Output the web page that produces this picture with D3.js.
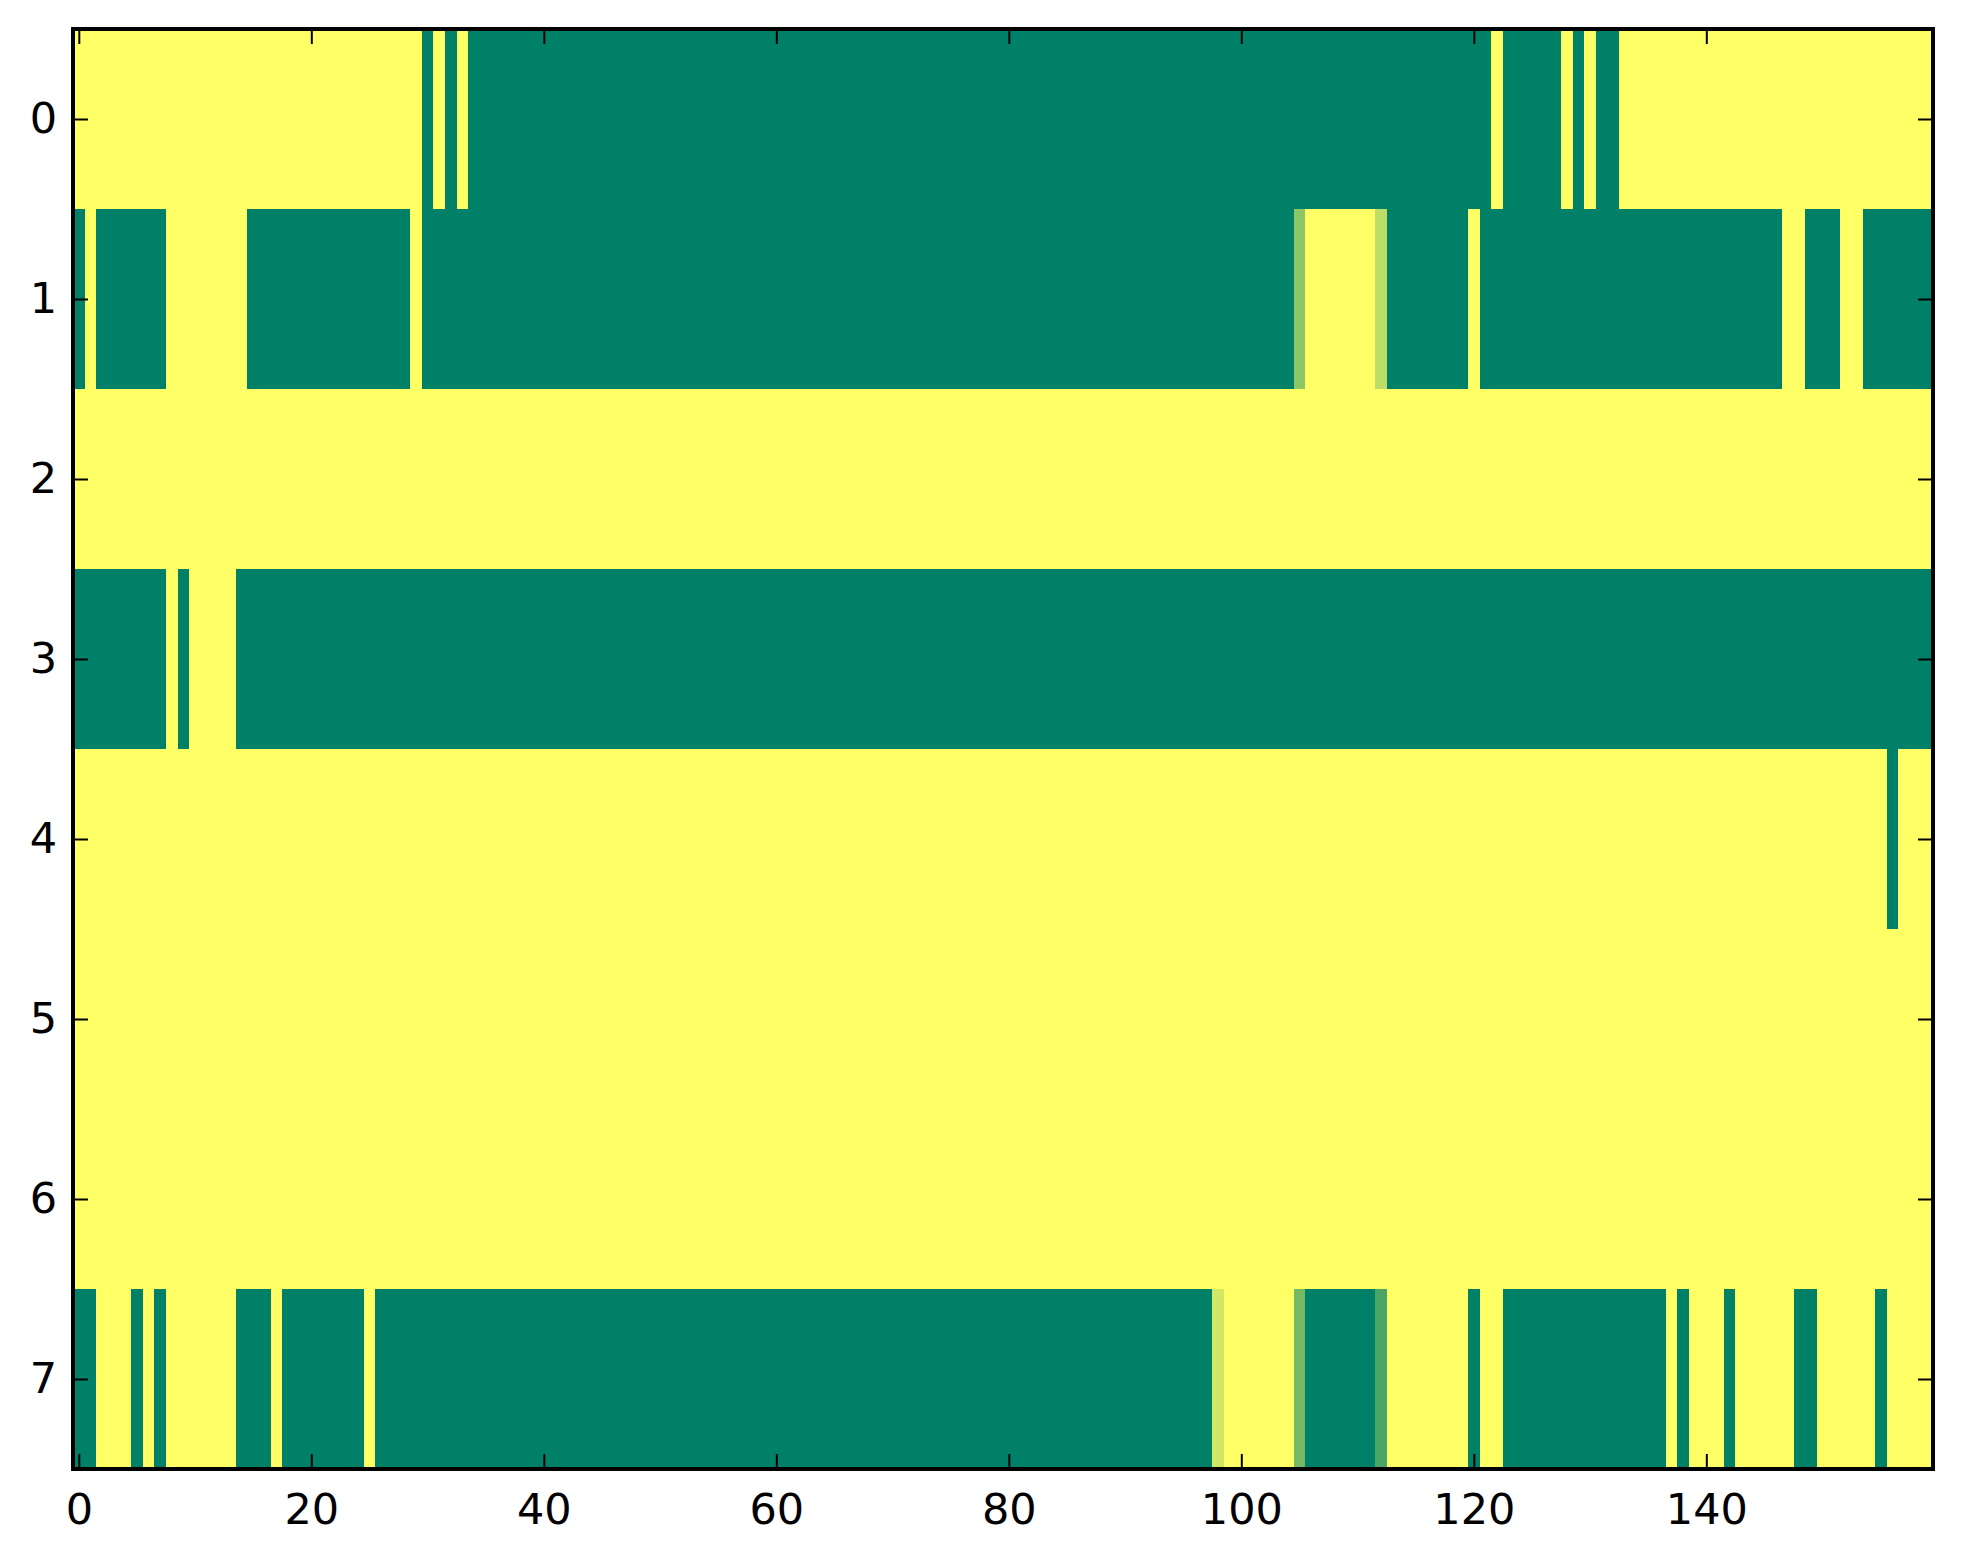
<!DOCTYPE html>
<html>
<head>
<meta charset="utf-8">
<script src="https://cdn.jsdelivr.net/npm/d3@7"></script>
<style>
  html, body { margin: 0; padding: 0; background: #ffffff; }
  text { font-family: "DejaVu Sans", sans-serif; }
</style>
</head>
<body>
<div id="chart"></div>
<script>
// Row labels and x tick values
const rows = [0, 1, 2, 3, 4, 5, 6, 7];
const xTicks = [0, 20, 40, 60, 80, 100, 120, 140];

// Cell values per row, 160 columns each (0 = green, 1 = yellow)
const row0 = [
  1,1,1,1,1,1,1,1,1,1,1,1,1,1,1,1,1,1,1,1,
  1,1,1,1,1,1,1,1,1,1,0,1,0,1,0,0,0,0,0,0,
  0,0,0,0,0,0,0,0,0,0,0,0,0,0,0,0,0,0,0,0,
  0,0,0,0,0,0,0,0,0,0,0,0,0,0,0,0,0,0,0,0,
  0,0,0,0,0,0,0,0,0,0,0,0,0,0,0,0,0,0,0,0,
  0,0,0,0,0,0,0,0,0,0,0,0,0,0,0,0,0,0,0,0,
  0,0,1,0,0,0,0,0,1,0,1,0,0,1,1,1,1,1,1,1,
  1,1,1,1,1,1,1,1,1,1,1,1,1,1,1,1,1,1,1,1
];
const row1 = [
  0,1,0,0,0,0,0,0,1,1,1,1,1,1,1,0,0,0,0,0,
  0,0,0,0,0,0,0,0,0,1,0,0,0,0,0,0,0,0,0,0,
  0,0,0,0,0,0,0,0,0,0,0,0,0,0,0,0,0,0,0,0,
  0,0,0,0,0,0,0,0,0,0,0,0,0,0,0,0,0,0,0,0,
  0,0,0,0,0,0,0,0,0,0,0,0,0,0,0,0,0,0,0,0,
  0,0,0,0,0,0.55,1,1,1,1,1,1,0.74,0,0,0,0,0,0,0,
  1,0,0,0,0,0,0,0,0,0,0,0,0,0,0,0,0,0,0,0,
  0,0,0,0,0,0,0,1,1,0,0,0,1,1,0,0,0,0,0,0
];
const row2 = [
  1,1,1,1,1,1,1,1,1,1,1,1,1,1,1,1,1,1,1,1,
  1,1,1,1,1,1,1,1,1,1,1,1,1,1,1,1,1,1,1,1,
  1,1,1,1,1,1,1,1,1,1,1,1,1,1,1,1,1,1,1,1,
  1,1,1,1,1,1,1,1,1,1,1,1,1,1,1,1,1,1,1,1,
  1,1,1,1,1,1,1,1,1,1,1,1,1,1,1,1,1,1,1,1,
  1,1,1,1,1,1,1,1,1,1,1,1,1,1,1,1,1,1,1,1,
  1,1,1,1,1,1,1,1,1,1,1,1,1,1,1,1,1,1,1,1,
  1,1,1,1,1,1,1,1,1,1,1,1,1,1,1,1,1,1,1,1
];
const row3 = [
  0,0,0,0,0,0,0,0,1,0,1,1,1,1,0,0,0,0,0,0,
  0,0,0,0,0,0,0,0,0,0,0,0,0,0,0,0,0,0,0,0,
  0,0,0,0,0,0,0,0,0,0,0,0,0,0,0,0,0,0,0,0,
  0,0,0,0,0,0,0,0,0,0,0,0,0,0,0,0,0,0,0,0,
  0,0,0,0,0,0,0,0,0,0,0,0,0,0,0,0,0,0,0,0,
  0,0,0,0,0,0,0,0,0,0,0,0,0,0,0,0,0,0,0,0,
  0,0,0,0,0,0,0,0,0,0,0,0,0,0,0,0,0,0,0,0,
  0,0,0,0,0,0,0,0,0,0,0,0,0,0,0,0,0,0,0,0
];
const row4 = [
  1,1,1,1,1,1,1,1,1,1,1,1,1,1,1,1,1,1,1,1,
  1,1,1,1,1,1,1,1,1,1,1,1,1,1,1,1,1,1,1,1,
  1,1,1,1,1,1,1,1,1,1,1,1,1,1,1,1,1,1,1,1,
  1,1,1,1,1,1,1,1,1,1,1,1,1,1,1,1,1,1,1,1,
  1,1,1,1,1,1,1,1,1,1,1,1,1,1,1,1,1,1,1,1,
  1,1,1,1,1,1,1,1,1,1,1,1,1,1,1,1,1,1,1,1,
  1,1,1,1,1,1,1,1,1,1,1,1,1,1,1,1,1,1,1,1,
  1,1,1,1,1,1,1,1,1,1,1,1,1,1,1,1,0,1,1,1
];
const row5 = [
  1,1,1,1,1,1,1,1,1,1,1,1,1,1,1,1,1,1,1,1,
  1,1,1,1,1,1,1,1,1,1,1,1,1,1,1,1,1,1,1,1,
  1,1,1,1,1,1,1,1,1,1,1,1,1,1,1,1,1,1,1,1,
  1,1,1,1,1,1,1,1,1,1,1,1,1,1,1,1,1,1,1,1,
  1,1,1,1,1,1,1,1,1,1,1,1,1,1,1,1,1,1,1,1,
  1,1,1,1,1,1,1,1,1,1,1,1,1,1,1,1,1,1,1,1,
  1,1,1,1,1,1,1,1,1,1,1,1,1,1,1,1,1,1,1,1,
  1,1,1,1,1,1,1,1,1,1,1,1,1,1,1,1,1,1,1,1
];
const row6 = [
  1,1,1,1,1,1,1,1,1,1,1,1,1,1,1,1,1,1,1,1,
  1,1,1,1,1,1,1,1,1,1,1,1,1,1,1,1,1,1,1,1,
  1,1,1,1,1,1,1,1,1,1,1,1,1,1,1,1,1,1,1,1,
  1,1,1,1,1,1,1,1,1,1,1,1,1,1,1,1,1,1,1,1,
  1,1,1,1,1,1,1,1,1,1,1,1,1,1,1,1,1,1,1,1,
  1,1,1,1,1,1,1,1,1,1,1,1,1,1,1,1,1,1,1,1,
  1,1,1,1,1,1,1,1,1,1,1,1,1,1,1,1,1,1,1,1,
  1,1,1,1,1,1,1,1,1,1,1,1,1,1,1,1,1,1,1,1
];
const row7 = [
  0,0,1,1,1,0,1,0,1,1,1,1,1,1,0,0,0,1,0,0,
  0,0,0,0,0,1,0,0,0,0,0,0,0,0,0,0,0,0,0,0,
  0,0,0,0,0,0,0,0,0,0,0,0,0,0,0,0,0,0,0,0,
  0,0,0,0,0,0,0,0,0,0,0,0,0,0,0,0,0,0,0,0,
  0,0,0,0,0,0,0,0,0,0,0,0,0,0,0,0,0,0,0.82,1,
  1,1,1,1,1,0.45,0,0,0,0,0,0,0.29,1,1,1,1,1,1,1,
  0,1,1,0,0,0,0,0,0,0,0,0,0,0,0,0,0,1,0,1,
  1,1,0,1,1,1,1,1,0,0,1,1,1,1,1,0,1,1,1,1
];
const matrix = [row0, row1, row2, row3, row4, row5, row6, row7];

const width = 1963;
const height = 1564;
const margin = { left: 73, right: 1933, top: 29, bottom: 1469 };
const nCols = row0.length;

const svg = d3.select("#chart")
  .append("svg")
  .attr("width", width)
  .attr("height", height);

const xScale = d3.scaleLinear().domain([-0.5, nCols - 0.5]).range([margin.left, margin.right]);
const yScale = d3.scaleLinear().domain([-0.5, rows.length - 0.5]).range([margin.top, margin.bottom]);

// matplotlib "summer" colormap
const color = d3.scaleLinear().domain([0, 1]).range(["#008066", "#ffff66"]);

const cells = [];
matrix.forEach((r, i) => r.forEach((v, j) => cells.push({ row: i, col: j, v: v })));

svg.append("g")
  .selectAll("rect")
  .data(cells)
  .join("rect")
  .attr("x", d => xScale(d.col - 0.5))
  .attr("y", d => yScale(d.row - 0.5))
  .attr("width", xScale(1) - xScale(0) + 0.6)
  .attr("height", yScale(1) - yScale(0) + 0.6)
  .attr("fill", d => color(d.v))
  .attr("shape-rendering", "crispEdges");

// axes with inward ticks on all four sides
const tickLen = 15;
const style = g => {
  g.select(".domain").remove();
  g.selectAll(".tick line").attr("stroke", "#000").attr("stroke-width", 2);
  g.selectAll(".tick text").attr("fill", "#000").style("font-size", "43px");
};

svg.append("g")
  .attr("transform", `translate(0,${margin.bottom})`)
  .call(d3.axisBottom(xScale).tickValues(xTicks).tickSize(-tickLen).tickPadding(24))
  .call(style);

svg.append("g")
  .attr("transform", `translate(0,${margin.top})`)
  .call(d3.axisTop(xScale).tickValues(xTicks).tickSize(-tickLen).tickFormat(""))
  .call(style);

svg.append("g")
  .attr("transform", `translate(${margin.left},0)`)
  .call(d3.axisLeft(yScale).tickValues(rows).tickSize(-tickLen).tickPadding(16))
  .call(style);

svg.append("g")
  .attr("transform", `translate(${margin.right},0)`)
  .call(d3.axisRight(yScale).tickValues(rows).tickSize(-tickLen).tickFormat(""))
  .call(style);

svg.append("rect")
  .attr("x", margin.left)
  .attr("y", margin.top)
  .attr("width", margin.right - margin.left)
  .attr("height", margin.bottom - margin.top)
  .attr("fill", "none")
  .attr("stroke", "#000")
  .attr("stroke-width", 4);
</script>
</body>
</html>
